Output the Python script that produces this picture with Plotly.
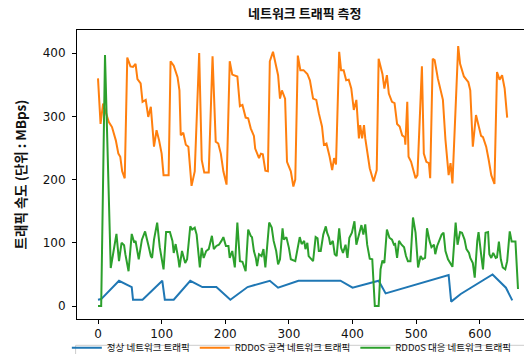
import plotly.graph_objects as go

# ---- data ----
normal_x = [0, 5, 33, 53, 55, 70, 101, 105, 119, 145, 164, 186, 208, 235, 270, 283, 315,
            381, 400, 441, 452, 551, 555, 570, 620, 641, 651]
normal_y = [10, 11, 40, 30, 10, 10, 40, 10, 10, 40, 30, 30, 10, 30, 40, 29, 40,
            40, 29, 40, 20, 49, 7, 19, 50, 29, 9]

attack_x = [0, 4, 8, 13, 17, 22, 28, 32, 35, 38, 42, 46, 51, 55, 59, 62, 67, 70, 75, 79,
            83, 88, 92, 96, 100, 103, 111, 114, 119, 125, 128, 130, 134, 138, 142, 147,
            152, 159, 163, 167, 174, 180, 185, 189, 193, 197, 202, 207, 211, 219, 223,
            227, 232, 236, 240, 245, 247, 253, 256, 259, 263, 267, 270, 275, 279, 283,
            286, 289, 294, 297, 303, 307, 310, 314, 318, 323, 329, 333, 338, 343, 347,
            352, 355, 359, 364, 368, 371, 374, 379, 382, 386, 390, 394, 398, 402, 406,
            410, 412, 415, 418, 420, 424, 427, 433, 438, 441, 447, 450, 454, 457, 462,
            466, 470, 474, 478, 482, 483, 486, 488, 492, 496, 499, 502, 509, 512, 516,
            520, 522, 526, 529, 534, 538, 542, 546, 551, 554, 557, 566, 569, 575, 582,
            585, 589, 594, 598, 602, 605, 610, 614, 618, 623, 627, 631, 635, 639, 643]
attack_y = [360, 288, 320, 302, 291, 283, 262, 241, 236, 213, 202, 393, 379, 378, 383,
            359, 352, 323, 326, 299, 315, 252, 278, 262, 241, 207, 207, 387, 380, 362,
            341, 270, 274, 255, 252, 190, 213, 400, 231, 211, 211, 395, 260, 257, 241,
            213, 192, 387, 366, 363, 316, 318, 298, 297, 281, 269, 249, 234, 241, 240,
            214, 213, 387, 402, 383, 365, 328, 341, 328, 228, 213, 189, 200, 396, 373,
            373, 367, 357, 328, 326, 305, 284, 255, 257, 236, 215, 234, 224, 402, 373,
            373, 357, 358, 344, 310, 326, 265, 286, 265, 286, 265, 236, 218, 197, 215,
            391, 367, 344, 365, 336, 323, 321, 288, 284, 270, 267, 255, 323, 236, 228,
            215, 202, 207, 379, 241, 228, 226, 202, 391, 389, 360, 344, 326, 263, 207,
            226, 194, 411, 383, 363, 354, 341, 252, 302, 284, 269, 267, 252, 231, 207,
            193, 370, 358, 365, 344, 298]

defense_x = [0, 5, 11, 20, 29, 33, 37, 41, 43, 48, 53, 57, 59, 64, 69, 74, 79, 83, 85, 88,
             93, 97, 103, 107, 113, 117, 119, 122, 126, 128, 132, 137, 140, 145, 148, 152,
             155, 158, 160, 163, 166, 170, 174, 179, 182, 186, 190, 194, 197, 201, 205,
             207, 211, 215, 219, 223, 227, 232, 236, 240, 242, 245, 248, 250, 253, 257,
             260, 263, 269, 273, 276, 280, 283, 286, 290, 292, 296, 300, 303, 310, 315,
             317, 320, 324, 326, 329, 331, 334, 338, 342, 345, 347, 350, 354, 358, 360,
             363, 365, 369, 372, 375, 379, 382, 385, 389, 392, 395, 399, 403, 406, 410,
             414, 417, 420, 423, 427, 431, 435, 439, 441, 444, 447, 450, 454, 458, 462,
             465, 467, 470, 473, 477, 481, 484, 487, 491, 495, 499, 503, 507, 510, 514,
             517, 521, 524, 528, 530, 533, 537, 540, 543, 546, 550, 554, 557, 562, 565,
             569, 572, 576, 579, 583, 585, 589, 592, 596, 598, 602, 605, 609, 613, 615,
             618, 621, 625, 627, 630, 633, 636, 640, 643, 647, 650, 656, 660]
defense_y = [0, 0, 397, 60, 114, 71, 100, 96, 82, 55, 114, 100, 103, 74, 105, 118, 97, 79,
             76, 105, 132, 93, 58, 117, 117, 103, 84, 98, 76, 61, 87, 68, 74, 126, 121,
             124, 113, 87, 61, 92, 76, 87, 90, 111, 90, 95, 97, 103, 109, 95, 95, 76, 87,
             61, 132, 71, 70, 55, 121, 111, 109, 87, 76, 63, 82, 79, 90, 61, 132, 124,
             103, 87, 66, 74, 123, 105, 109, 92, 74, 71, 100, 109, 98, 103, 90, 100, 79,
             76, 71, 109, 107, 87, 87, 113, 126, 116, 108, 97, 103, 82, 79, 123, 92, 84,
             97, 76, 108, 116, 134, 97, 112, 128, 113, 129, 97, 75, 74, 0, 0, 0, 58, 72,
             68, 121, 108, 105, 97, 98, 76, 103, 97, 93, 79, 71, 71, 140, 116, 61, 79, 74,
             76, 123, 103, 93, 97, 82, 95, 105, 113, 116, 87, 74, 66, 62, 132, 97, 117,
             116, 105, 90, 84, 76, 68, 45, 103, 117, 82, 58, 116, 117, 82, 76, 84, 76, 77,
             102, 74, 61, 58, 71, 118, 102, 102, 27]

series_names = ["정상 네트워크 트래픽", "RDDoS 공격 네트워크 트래픽", "RDDoS 대응 네트워크 트래픽"]
series_colors = ["#1f77b4", "#ff7f0e", "#2ca02c"]
x_ticks = [0, 100, 200, 300, 400, 500, 600]
y_ticks = [0, 100, 200, 300, 400]
title_text = "네트워크 트래픽 측정"
y_title = "트래픽 속도 (단위 : MBps)"

KR = "Noto Sans CJK KR"

fig = go.Figure()
for xs, ys, name, col in zip([normal_x, attack_x, defense_x],
                             [normal_y, attack_y, defense_y],
                             series_names, series_colors):
    fig.add_trace(go.Scatter(x=xs, y=ys, mode="lines", name=name,
                             line=dict(color=col, width=2)))

fig.update_layout(
    width=532, height=354,
    margin=dict(l=69, r=1, t=22, b=43, autoexpand=False),
    plot_bgcolor="white", paper_bgcolor="white",
    title=dict(text="<b>" + title_text + "</b>", x=0.493, xref="paper", xanchor="center",
               y=0.997, yref="container", yanchor="top",
               font=dict(family=KR, size=13, color="#111")),
    showlegend=True,
    legend=dict(orientation="h", x=-0.022, xanchor="left", y=-0.049, yanchor="top",
                bgcolor="rgba(255,255,255,0)", borderwidth=0,
                font=dict(family=KR, size=9.5, color="#111"),
                itemwidth=30, tracegroupgap=0),
    # legend frame (the reference's frame runs off the bottom edge)
    shapes=[dict(type="rect", xref="paper", yref="paper",
                 x0=-0.003, x1=0.9985, y0=-0.091, y1=-0.2,
                 line=dict(color="#cccccc", width=1), layer="below")],
)
fig.update_xaxes(range=[-33, 693], tickvals=x_ticks, ticks="outside", ticklen=4,
                 tickcolor="black", showline=True, linecolor="black", linewidth=1,
                 mirror=True, showgrid=False, zeroline=False,
                 tickfont=dict(family="DejaVu Sans", size=12, color="#111"))
fig.update_yaxes(range=[-20.5, 436.5], tickvals=y_ticks, ticks="outside", ticklen=4,
                 tickcolor="black", showline=True, linecolor="black", linewidth=1,
                 mirror=False, showgrid=False, zeroline=False, ticklabelstandoff=4,
                 tickfont=dict(family="DejaVu Sans", size=12, color="#111"),
                 title=dict(text="<b>" + y_title + "</b>", standoff=12,
                            font=dict(family=KR, size=13.5, color="#111")))

fig.write_html("out.html")
